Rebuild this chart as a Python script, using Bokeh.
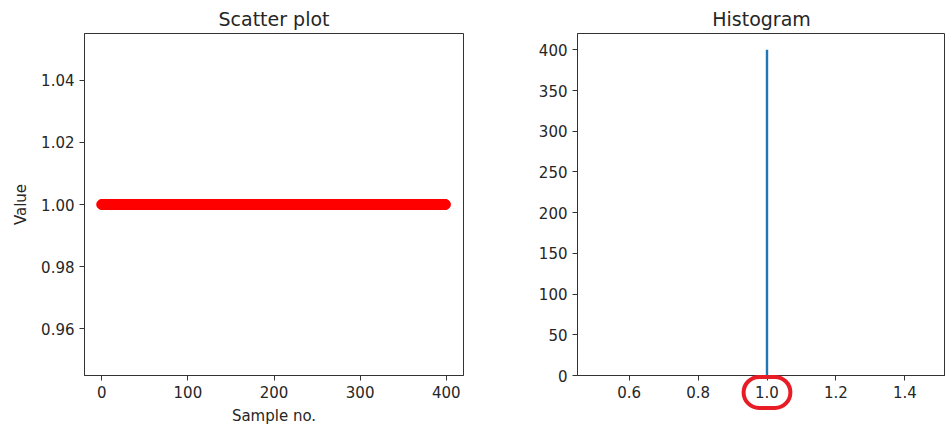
import numpy as np
from bokeh.plotting import figure
from bokeh.layouts import row
from bokeh.models import Range1d, FixedTicker, Label, NumeralTickFormatter
from bokeh.embed import file_html
from bokeh.resources import INLINE

# ---- data ----
sample_no = list(range(400))
values = [1.0] * 400

hist_center = [1.0]
hist_count = [400]

scatter_xticks = [0, 100, 200, 300, 400]
scatter_yticks = [0.96, 0.98, 1.00, 1.02, 1.04]
hist_xticks = [0.6, 0.8, 1.0, 1.2, 1.4]
hist_yticks = [0, 50, 100, 150, 200, 250, 300, 350, 400]
highlight_tick = 1.0

FONT = "DejaVu Sans"
TXT = "#262626"
AX = "#333333"


def style(p):
    p.title.text_font = FONT
    p.title.text_font_size = "19px"
    p.title.text_font_style = "normal"
    p.title.text_color = TXT
    p.title.align = "center"
    p.title.standoff = 8
    p.xgrid.visible = False
    p.ygrid.visible = False
    p.outline_line_color = AX
    p.outline_line_width = 1
    for ax in (p.xaxis[0], p.yaxis[0]):
        ax.major_label_text_font = FONT
        ax.major_label_text_font_size = "15px"
        ax.major_label_text_color = TXT
        ax.axis_label_text_font = FONT
        ax.axis_label_text_font_size = "15px"
        ax.axis_label_text_font_style = "normal"
        ax.axis_label_text_color = TXT
        ax.axis_line_color = AX
        ax.major_tick_line_color = AX
        ax.major_tick_out = 5
        ax.major_tick_in = 0
        ax.minor_tick_line_color = None
        ax.major_label_standoff = 5


# ---- scatter ----
p1 = figure(width=480, height=427, output_backend="svg", toolbar_location=None,
            title="Scatter plot",
            x_range=Range1d(-20, 420), y_range=Range1d(0.945, 1.055),
            min_border_left=84, min_border_right=17, min_border_top=33, min_border_bottom=51)
style(p1)
p1.scatter(sample_no, values, size=10, color="#ff0000", line_color="#ff0000")
p1.xaxis.ticker = FixedTicker(ticks=scatter_xticks)
p1.yaxis.ticker = FixedTicker(ticks=scatter_yticks)
p1.yaxis.formatter = NumeralTickFormatter(format="0.00")
p1.xaxis.axis_label = "Sample no."
p1.yaxis.axis_label = "Value"
p1.xaxis.axis_label_standoff = 6
p1.yaxis.axis_label_standoff = 8

# ---- histogram ----
x0 = 0.45
px_per_unit = 379 / 1.10
frame_w = 368
p2 = figure(width=465, height=427, output_backend="svg", toolbar_location=None,
            title="Histogram",
            x_range=Range1d(x0, x0 + frame_w / px_per_unit), y_range=Range1d(0, 420),
            min_border_left=97, min_border_right=0, min_border_top=33, min_border_bottom=51)
style(p2)
p2.vbar(x=hist_center, top=hist_count, width=0.007, color="#1f77b4", line_color=None)
p2.xaxis.ticker = FixedTicker(ticks=hist_xticks)
p2.yaxis.ticker = FixedTicker(ticks=hist_yticks)
p2.xaxis.formatter = NumeralTickFormatter(format="0.0")

# red ring around highlighted tick label (placed in a side panel so it is not clipped)
y_per_px = 420 / 343
ring = Label(x=highlight_tick, y=-17 * y_per_px, text="\u00a0", text_font_size="10px",
             text_align="center", text_baseline="middle",
             border_line_color="#e81c24", border_line_width=4,
             padding=(22, 10), border_radius=16)
p2.add_layout(ring, "left")

layout = row(p1, p2)
open("out.html", "w").write(file_html(layout, INLINE))
